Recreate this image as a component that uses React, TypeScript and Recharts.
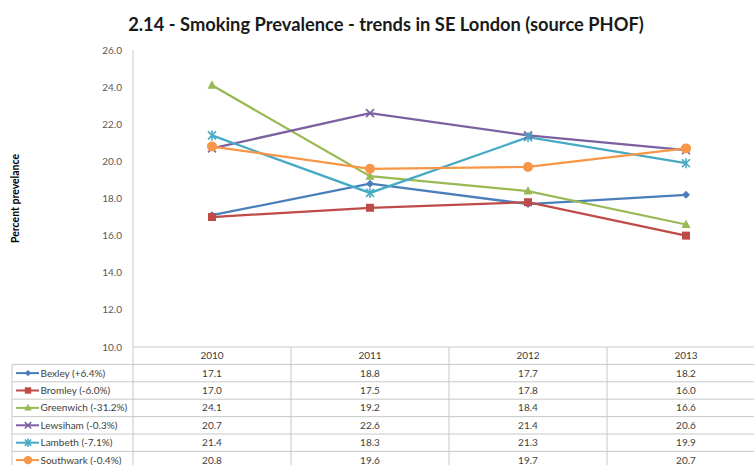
import { Line, LineChart, XAxis, YAxis } from 'recharts'

const years = ['2010', '2011', '2012', '2013']
const bexley = [17.1, 18.8, 17.7, 18.2]
const bromley = [17.0, 17.5, 17.8, 16.0]
const greenwich = [24.1, 19.2, 18.4, 16.6]
const lewisham = [20.7, 22.6, 21.4, 20.6]
const lambeth = [21.4, 18.3, 21.3, 19.9]
const southwark = [20.8, 19.6, 19.7, 20.7]
const yTicks = [10, 12, 14, 16, 18, 20, 22, 24, 26]

type Shape = 'diamond' | 'square' | 'triangle' | 'cross' | 'star' | 'circle'

const series: { key: string; name: string; color: string; shape: Shape; values: number[] }[] = [
  { key: 'bexley', name: 'Bexley (+6.4%)', color: '#4a7ebb', shape: 'diamond', values: bexley },
  { key: 'bromley', name: 'Bromley (-6.0%)', color: '#be4b48', shape: 'square', values: bromley },
  { key: 'greenwich', name: 'Greenwich (-31.2%)', color: '#98b954', shape: 'triangle', values: greenwich },
  { key: 'lewisham', name: 'Lewsiham (-0.3%)', color: '#7d60a0', shape: 'cross', values: lewisham },
  { key: 'lambeth', name: 'Lambeth (-7.1%)', color: '#46aac5', shape: 'star', values: lambeth },
  { key: 'southwark', name: 'Southwark (-0.4%)', color: '#f79646', shape: 'circle', values: southwark },
]

const data = years.map((year, i) => {
  const row: Record<string, string | number> = { year }
  series.forEach((s) => (row[s.key] = s.values[i]))
  return row
})

const CHART_W = 770
const CHART_H = 465
const AXIS_W = 133
const AXIS_H = 118
const MARGIN = { top: 50, right: 5, bottom: 0, left: 0 }
const BAND = (CHART_W - AXIS_W - MARGIN.right) / years.length
const ROW_H = 17.4
const TABLE_LEFT = 12
const GRID = '#c8c8c8'
const FONT = 'Lato, "Open Sans", sans-serif'

function Marker({ shape, cx, cy, color, size = 4 }: { shape: Shape; cx: number; cy: number; color: string; size?: number }) {
  const s = size
  switch (shape) {
    case 'diamond':
      return <polygon points={`${cx},${cy - s} ${cx + s},${cy} ${cx},${cy + s} ${cx - s},${cy}`} fill={color} />
    case 'square':
      return <rect x={cx - s} y={cy - s} width={s * 2} height={s * 2} fill={color} />
    case 'triangle':
      return <polygon points={`${cx},${cy - s - 1} ${cx + s + 0.5},${cy + s - 0.5} ${cx - s - 0.5},${cy + s - 0.5}`} fill={color} />
    case 'cross':
      return (
        <g stroke={color} strokeWidth={1.6}>
          <line x1={cx - s} y1={cy - s} x2={cx + s} y2={cy + s} />
          <line x1={cx - s} y1={cy + s} x2={cx + s} y2={cy - s} />
        </g>
      )
    case 'star':
      return (
        <g stroke={color} strokeWidth={1.6}>
          <line x1={cx - s} y1={cy - s} x2={cx + s} y2={cy + s} />
          <line x1={cx - s} y1={cy + s} x2={cx + s} y2={cy - s} />
          <line x1={cx} y1={cy - s - 1} x2={cx} y2={cy + s + 1} />
        </g>
      )
    default:
      return <circle cx={cx} cy={cy} r={s + 1} fill={color} />
  }
}

function TableTick(props: any) {
  const { x, y, payload, index } = props
  const left = x - BAND / 2
  const right = x + BAND / 2
  const rows = series.length
  const bottom = y + ROW_H * (rows + 1)
  return (
    <g fontFamily={FONT} fontSize={10} fill="#404040">
      {index === 0 && (
        <g>
          {series.map((s, i) => {
            const lineY = y + ROW_H * (i + 1)
            const cy = lineY + ROW_H / 2
            return (
              <g key={s.key}>
                <line x1={TABLE_LEFT} y1={lineY} x2={CHART_W} y2={lineY} stroke={GRID} />
                <line x1={TABLE_LEFT + 4} y1={cy} x2={TABLE_LEFT + 27} y2={cy} stroke={s.color} strokeWidth={2} />
                <Marker shape={s.shape} cx={TABLE_LEFT + 16} cy={cy} color={s.color} size={3.2} />
                <text x={TABLE_LEFT + 28.5} y={cy + 3.5} textAnchor="start">
                  {s.name}
                </text>
              </g>
            )
          })}
          <line x1={TABLE_LEFT} y1={y + ROW_H} x2={TABLE_LEFT} y2={bottom} stroke={GRID} />
          <line x1={left} y1={y} x2={left} y2={bottom} stroke={GRID} />
        </g>
      )}
      <line x1={right} y1={y} x2={right} y2={bottom} stroke={GRID} />
      <text x={x} y={y + ROW_H / 2 + 3.5} textAnchor="middle">
        {payload.value}
      </text>
      {series.map((s, i) => (
        <text key={s.key} x={x} y={y + ROW_H * (i + 1) + ROW_H / 2 + 3.5} textAnchor="middle">
          {s.values[index].toFixed(1)}
        </text>
      ))}
    </g>
  )
}

export default function App() {
  return (
    <div style={{ position: 'absolute', left: 0, top: 0, width: 754, height: 465, overflow: 'hidden', background: '#fff' }}>
      <div
        style={{
          position: 'absolute',
          left: 0,
          width: 772,
          top: 13,
          textAlign: 'center',
          fontFamily: FONT,
          fontWeight: 700,
          fontSize: 18.3,
          color: '#1a1a1a',
        }}
      >
        2.14 - Smoking Prevalence - trends in SE London (source PHOF)
      </div>
      <LineChart width={CHART_W} height={CHART_H} data={data} margin={MARGIN} style={{ position: 'absolute', left: 0, top: 0 }}>
        <XAxis
          dataKey="year"
          stroke={GRID}
          tickLine={false}
          tickSize={0}
          tickMargin={0}
          height={AXIS_H}
          padding={{ left: BAND / 2, right: BAND / 2 }}
          interval={0}
          tick={<TableTick />}
        />
        <YAxis
          domain={[10, 26]}
          ticks={yTicks}
          tickFormatter={(v: number) => v.toFixed(1)}
          stroke={GRID}
          tickLine={false}
          tickMargin={5}
          tick={{ fontSize: 10, fill: '#595959', fontFamily: FONT }}
          width={AXIS_W}
          label={{
            value: 'Percent prevelance',
            angle: -90,
            position: 'insideLeft',
            offset: 15,
            style: { fontSize: 10.5, fontWeight: 700, fill: '#000', fontFamily: FONT, textAnchor: 'middle' },
          }}
        />
        {series.map((s) => (
          <Line
            key={s.key}
            dataKey={s.key}
            name={s.name}
            stroke={s.color}
            strokeWidth={2.25}
            isAnimationActive={false}
            dot={(p: any) => <Marker key={`${s.key}-${p.index}`} shape={s.shape} cx={p.cx} cy={p.cy} color={s.color} />}
            activeDot={false}
          />
        ))}
      </LineChart>
    </div>
  )
}
